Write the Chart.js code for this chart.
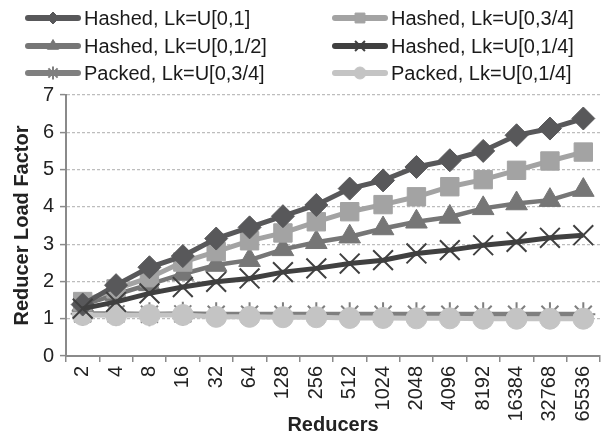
<!DOCTYPE html>
<html><head><meta charset="utf-8">
<script src="https://cdn.jsdelivr.net/npm/chart.js@4"></script>
<style>
html,body{margin:0;padding:0;background:#fff;}
#wrap{position:relative;width:616px;height:439px;overflow:hidden;}
#c{position:absolute;left:0;top:0;}
.lg{position:absolute;height:24px;font:20px "Liberation Sans",Arial,sans-serif;color:#1a1a1a;white-space:nowrap;line-height:24px;}
.lg canvas{position:absolute;top:0;left:0;}
.lg span{position:absolute;top:0;}
</style></head>
<body><div id="wrap"><canvas id="c" width="616" height="439"></canvas></div>
<script>
const categories = ['2','4','8','16','32','64','128','256','512','1024','2048','4096','8192','16384','32768','65536'];
const hashedU1   = [1.38, 1.9, 2.38, 2.68, 3.15, 3.45, 3.75, 4.05, 4.49, 4.71, 5.07, 5.25, 5.5, 5.92, 6.1, 6.37];
const hashedU34  = [1.46, 1.8, 2.1, 2.52, 2.8, 3.09, 3.3, 3.6, 3.87, 4.06, 4.27, 4.54, 4.73, 4.98, 5.23, 5.47];
const hashedU12  = [1.37, 1.65, 1.92, 2.2, 2.44, 2.57, 2.86, 3.05, 3.2, 3.42, 3.6, 3.73, 3.96, 4.09, 4.18, 4.45];
const hashedU14  = [1.27, 1.45, 1.68, 1.85, 1.99, 2.08, 2.25, 2.35, 2.48, 2.57, 2.75, 2.84, 2.97, 3.06, 3.17, 3.24];
const packedU34  = [1.13, 1.13, 1.12, 1.13, 1.12, 1.12, 1.12, 1.12, 1.12, 1.12, 1.12, 1.12, 1.12, 1.12, 1.12, 1.12];
const packedU14  = [1.1, 1.09, 1.1, 1.1, 1.05, 1.05, 1.04, 1.04, 1.02, 1.02, 1.01, 1.01, 1.0, 1.0, 1.0, 1.0];
const yTicks = [0,1,2,3,4,5,6,7];
const seriesNames = ['Hashed, Lk=U[0,1]','Hashed, Lk=U[0,3/4]','Hashed, Lk=U[0,1/2]','Hashed, Lk=U[0,1/4]','Packed, Lk=U[0,3/4]','Packed, Lk=U[0,1/4]'];

const FONT = '"Liberation Sans", Arial, sans-serif';
const styles = [
  {color:'#58585a', point:'rectRot', r:11.5, lr:6, lw:5, pbw:1, order:1},
  {color:'#a3a3a3', point:'rect', r:13, lr:7, lw:5, pbw:1, order:2},
  {color:'#767676', point:'triangle', r:12.5, lr:6.5, lw:4.5, pbw:1, order:3},
  {color:'#404040', point:'crossRot', r:14, lr:7, lw:5, pbw:2, order:0},
  {color:'#7f7f7f', point:'star', r:12, lr:6.5, lw:5, pbw:2, order:5},
  {color:'#c4c4c4', point:'circle', r:10.5, lr:6, lw:5, pbw:1, order:4}
];
const values = [hashedU1, hashedU34, hashedU12, hashedU14, packedU34, packedU14];

const datasets = values.map((v,i)=>({
  label: seriesNames[i],
  data: v,
  borderColor: styles[i].color,
  backgroundColor: styles[i].color,
  borderWidth: styles[i].lw,
  pointStyle: styles[i].point,
  pointRadius: styles[i].r,
  pointHoverRadius: styles[i].r,
  pointBorderWidth: styles[i].pbw,
  pointBorderColor: styles[i].color,
  pointBackgroundColor: styles[i].color,
  tension: 0,
  order: styles[i].order
}));

new Chart(document.getElementById('c'), {
  type: 'line',
  data: {labels: categories, datasets},
  options: {
    responsive: false,
    animation: false,
    events: [],
    layout: {padding: {top: 95, right: 5, bottom: 2, left: 0}},
    plugins: {legend: {display: false}, tooltip: {enabled: false}},
    scales: {
      x: {
        type: 'category',
        offset: true,
        grid: {display: true, drawOnChartArea: false, drawTicks: true, tickLength: 6, color: '#8a8a8a', lineWidth: 1.5, offset: true},
        border: {display: true, color: '#8a8a8a', width: 2},
        ticks: {autoSkip: false, minRotation: 90, maxRotation: 90, padding: 4, color: '#222', font: {family: FONT, size: 20}},
        title: {display: true, text: 'Reducers', color: '#222', padding: 0, font: {family: FONT, size: 20, weight: 'bold'}},
        afterFit: s => { s.height = 439 - 2 - 356; }
      },
      y: {
        min: 0, max: 7,
        afterBuildTicks: s => { s.ticks = yTicks.map(v => ({value: v})); },
        grid: {display: true, drawOnChartArea: true, drawTicks: true, tickLength: 6, color: '#bdbdbd', tickColor: '#8a8a8a', lineWidth: 1.2, tickBorderDash: [], tickWidth: 1.5},
        border: {display: true, color: '#8a8a8a', width: 2, dash: [3, 2]},
        ticks: {padding: 6, color: '#222', font: {family: FONT, size: 20}},
        title: {display: true, text: 'Reducer Load Factor', color: '#222', padding: {top: 10, bottom: 0}, font: {family: FONT, size: 20, weight: 'bold'}},
        afterFit: s => { s.width = 66; }
      }
    }
  }
});

// legend (HTML, two columns)
const legendPos = [
  {x: 25, y: 18}, {x: 332, y: 18},
  {x: 25, y: 45.5}, {x: 332, y: 45.5},
  {x: 25, y: 72.5}, {x: 332, y: 72.5}
];
const wrap = document.getElementById('wrap');
seriesNames.forEach((name, i) => {
  const d = document.createElement('div');
  d.className = 'lg';
  d.style.left = legendPos[i].x + 'px';
  d.style.top = (legendPos[i].y - 12) + 'px';
  const cv = document.createElement('canvas');
  cv.width = 56; cv.height = 24;
  d.appendChild(cv);
  const sp = document.createElement('span');
  sp.style.left = '59px';
  sp.textContent = name;
  d.appendChild(sp);
  wrap.appendChild(d);
  const ctx = cv.getContext('2d');
  const st = styles[i];
  ctx.strokeStyle = st.color;
  ctx.lineWidth = 6;
  ctx.lineCap = 'round';
  ctx.beginPath(); ctx.moveTo(3, 12); ctx.lineTo(53, 12); ctx.stroke();
  ctx.lineCap = 'butt';
  ctx.fillStyle = st.color;
  ctx.strokeStyle = st.color;
  ctx.lineWidth = st.pbw;
  Chart.helpers.drawPoint(ctx, {pointStyle: st.point, radius: st.lr, rotation: 0, borderWidth: st.pbw}, 28, 12);
});
</script>
</body></html>
